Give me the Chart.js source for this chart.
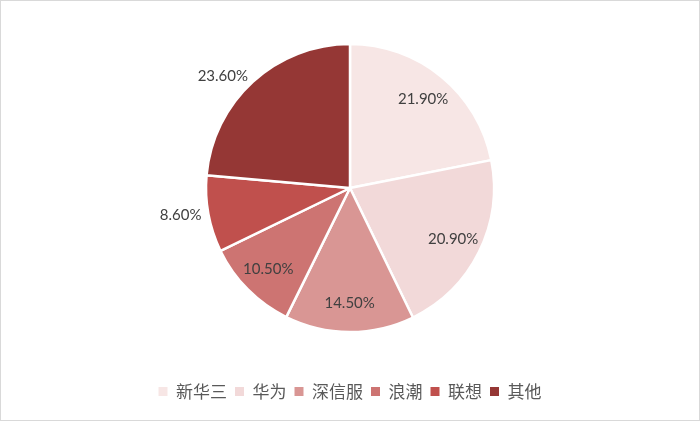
<!DOCTYPE html>
<html>
<head>
<meta charset="utf-8">
<script src="https://cdn.jsdelivr.net/npm/chart.js@4"></script>
<style>
  html, body { margin: 0; padding: 0; background: #fff; }
  #wrap { width: 698px; height: 419px; border: 1px solid #d9d9d9; }
</style>
</head>
<body>
<div id="wrap"><canvas id="shareChart" width="698" height="419"></canvas></div>
<script>
const ctx = document.getElementById("shareChart");

// vendors and their share (%)
const vendors = ["新华三", "华为", "深信服", "浪潮", "联想", "其他"];
const shares = [21.9, 20.9, 14.5, 10.5, 8.6, 23.6];
const sliceColors = ["#F7E6E5", "#F2D9D9", "#D99694", "#CD7472", "#C0504D", "#953735"];

// labels that Excel put outside the pie
const outsideLabels = [4, 5];

const pieLabels = {
    id: "pieLabels",
    afterDatasetsDraw(chart) {
        const c = chart.ctx;
        const meta = chart.getDatasetMeta(0);
        c.save();
        c.font = "15px Lato, 'Open Sans', sans-serif";
        c.fillStyle = "#404040";
        c.textBaseline = "middle";
        meta.data.forEach((arc, i) => {
            const mid = (arc.startAngle + arc.endAngle) / 2;
            const txt = shares[i].toFixed(2) + "%";
            if (outsideLabels.includes(i)) {
                // text sits just beyond the rim, anchored on its near edge
                const r = arc.outerRadius + 7;
                const x = arc.x + Math.cos(mid) * r;
                const y = arc.y + Math.sin(mid) * r;
                c.textAlign = Math.cos(mid) < 0 ? "right" : "left";
                c.fillText(txt, x, y);
            } else {
                const r = arc.outerRadius * 0.8;
                c.textAlign = "center";
                c.fillText(txt, arc.x + Math.cos(mid) * r, arc.y + Math.sin(mid) * r);
            }
        });
        c.restore();
    }
};

new Chart(ctx, {
    type: "pie",
    data: {
        labels: vendors,
        datasets: [{
            data: shares,
            backgroundColor: sliceColors,
            borderColor: "#ffffff",
            borderWidth: 2.5,
            radius: 144
        }]
    },
    options: {
        responsive: false,
        animation: false,
        layout: {
            padding: { top: 0, bottom: 10 }
        },
        plugins: {
            legend: {
                position: "bottom",
                labels: {
                    boxWidth: 9,
                    boxHeight: 9,
                    padding: 8,
                    color: "#595959",
                    font: { size: 17, family: "'Noto Sans CJK SC', sans-serif" },
                    generateLabels(chart) {
                        // no white outline on the legend squares
                        const items = Chart.overrides.pie.plugins.legend.labels.generateLabels(chart);
                        items.forEach(it => { it.lineWidth = 0; });
                        return items;
                    }
                }
            },
            tooltip: { enabled: false }
        }
    },
    plugins: [pieLabels]
});
</script>
</body>
</html>
